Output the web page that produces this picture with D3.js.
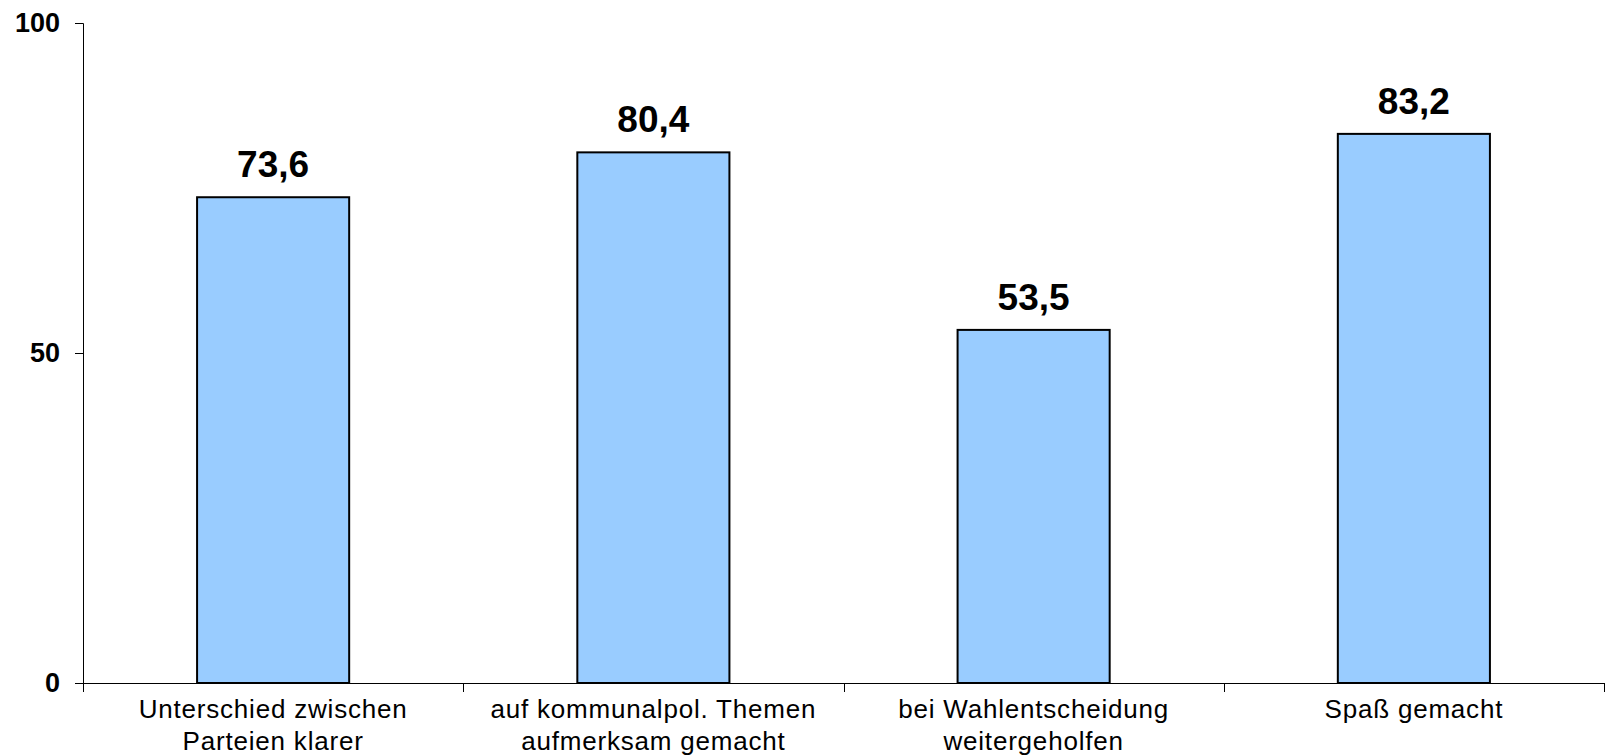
<!DOCTYPE html>
<html><head><meta charset="utf-8">
<script src="https://cdn.jsdelivr.net/npm/d3@7"></script>
<style>
html,body{margin:0;padding:0;background:#fff;}
svg{display:block;font-family:"Liberation Sans",Arial,sans-serif;}
</style></head>
<body>
<svg id="chart" width="1608" height="755"></svg>
<script>
const categories = [
  ["Unterschied zwischen", "Parteien klarer"],
  ["auf kommunalpol. Themen", "aufmerksam gemacht"],
  ["bei Wahlentscheidung", "weitergeholfen"],
  ["Spaß gemacht"]
];
const values = [73.6, 80.4, 53.5, 83.2];
const valueLabels = ["73,6", "80,4", "53,5", "83,2"];
const yTicks = [0, 50, 100];

(function () {
const svg = d3.select("#chart");
const mLeft = 83, mRight = 1604, mTop = 23, mBottom = 683;

const x = d3.scaleBand().domain(d3.range(values.length)).range([mLeft, mRight])
  .paddingInner(0.6).paddingOuter(0.3);
const y = d3.scaleLinear().domain([0, 100]).range([mBottom, mTop]);

// bars
svg.append("g").selectAll("rect").data(values).join("rect")
  .attr("x", (d, i) => x(i))
  .attr("y", d => y(d))
  .attr("width", x.bandwidth())
  .attr("height", d => y(0) - y(d))
  .attr("fill", "#99CCFF")
  .attr("stroke", "#000")
  .attr("stroke-width", 2);

// value labels
svg.append("g").selectAll("text").data(values).join("text")
  .attr("x", (d, i) => x(i) + x.bandwidth() / 2)
  .attr("y", d => y(d) - 20)
  .attr("text-anchor", "middle")
  .attr("font-size", 37)
  .attr("font-weight", "bold")
  .attr("fill", "#000")
  .text((d, i) => valueLabels[i]);

// y axis
const yAxis = svg.append("g").attr("transform", `translate(${mLeft},0)`)
  .call(d3.axisLeft(y).tickValues(yTicks).tickSize(8).tickPadding(15).tickFormat(d3.format("d")));
yAxis.select(".domain").attr("stroke", "#000").attr("d", `M-8,${mTop+0.5}H0.5V${mBottom}`);
yAxis.selectAll(".tick line").attr("stroke", "#000");
yAxis.selectAll("text").attr("font-size", 27).attr("font-weight", "bold")
  .attr("font-family", "'Liberation Sans',Arial,sans-serif").attr("fill", "#000");

// x axis line and separators
const xb = svg.append("g");
xb.append("line").attr("x1", mLeft - 8).attr("x2", mRight).attr("y1", y(0) + 0.5).attr("y2", y(0) + 0.5)
  .attr("stroke", "#000");
const sepX = d3.range(values.length + 1).map(i => mLeft + i * x.step());
xb.selectAll("line.sep").data(sepX).join("line").attr("class", "sep")
  .attr("x1", d => Math.round(d) + 0.5).attr("x2", d => Math.round(d) + 0.5)
  .attr("y1", y(0)).attr("y2", y(0) + 9).attr("stroke", "#000");

// category labels
const cl = svg.append("g").selectAll("text").data(categories).join("text")
  .attr("x", (d, i) => x(i) + x.bandwidth() / 2)
  .attr("y", 718)
  .attr("text-anchor", "middle")
  .attr("font-size", 26)
  .attr("letter-spacing", "0.8px")
  .attr("fill", "#000");
cl.selectAll("tspan").data(d => d).join("tspan")
  .attr("x", function () { return this.parentNode.getAttribute("x"); })
  .attr("dy", (d, j) => j === 0 ? 0 : 32)
  .text(d => d);
})();
</script>
</body></html>
